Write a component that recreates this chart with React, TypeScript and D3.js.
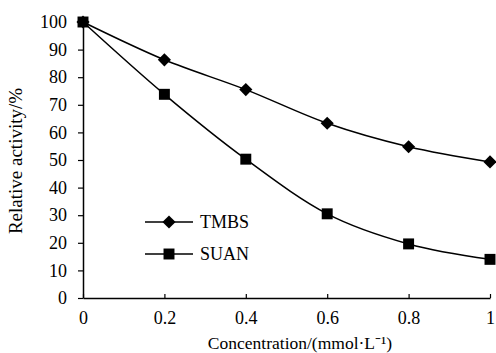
import { useEffect, useRef } from 'react';
import * as d3 from 'd3';

const concentrations = [0, 0.2, 0.4, 0.6, 0.8, 1];
const tmbsValues = [100, 86.3, 75.5, 63.3, 54.8, 49.3];
const suanValues = [100, 73.8, 50.3, 30.5, 19.6, 14];
const xTicks = [0, 0.2, 0.4, 0.6, 0.8, 1];
const yTicks = [0, 10, 20, 30, 40, 50, 60, 70, 80, 90, 100];
const seriesNames = ['TMBS', 'SUAN'];

const FONT = "'Liberation Serif', 'Times New Roman', Times, serif";

export default function App() {
  const svgRef = useRef<SVGSVGElement>(null);
  const width = 496;
  const height = 353;

  useEffect(() => {
    if (!svgRef.current) return;
    const svg = d3.select(svgRef.current);
    svg.selectAll('*').remove();

    const x = d3.scaleLinear().domain([0, 1]).range([83, 490]);
    const y = d3.scaleLinear().domain([0, 100]).range([298, 22]);

    // axes
    const yAxis = svg
      .append('g')
      .attr('transform', `translate(${x(0)},0)`)
      .call(d3.axisLeft(y).tickValues(yTicks).tickSize(5).tickSizeOuter(0).tickPadding(11));
    yAxis.attr('font-family', null).attr('font-size', null);
    yAxis.select('.domain').attr('stroke', '#000').attr('stroke-width', 1.5);
    yAxis.selectAll('.tick line').attr('stroke', '#000').attr('stroke-width', 1.2);
    yAxis.selectAll('.tick text').attr('fill', '#000');

    const xAxis = svg
      .append('g')
      .attr('transform', `translate(0,${y(0)})`)
      .call(
        d3
          .axisBottom(x)
          .tickValues(xTicks)
          .tickSize(-4)
          .tickSizeOuter(0)
          .tickPadding(13)
          .tickFormat((d) => d3.format('')(+d))
      );
    xAxis.attr('font-family', null).attr('font-size', null);
    xAxis.select('.domain').attr('stroke', '#000').attr('stroke-width', 1.5);
    xAxis.selectAll('.tick line').attr('stroke', '#000').attr('stroke-width', 1.2);
    xAxis.selectAll('.tick text').attr('fill', '#000');

    // lines
    const line = d3
      .line<number>()
      .x((_, i) => x(concentrations[i]))
      .y((d) => y(d))
      .curve(d3.curveCatmullRom.alpha(0));

    const diamond = d3.symbol().type(d3.symbolDiamond2).size(110);
    const square = d3.symbol().type(d3.symbolSquare).size(120);

    [tmbsValues, suanValues].forEach((vals, si) => {
      svg
        .append('path')
        .attr('d', line(vals))
        .attr('fill', 'none')
        .attr('stroke', '#000')
        .attr('stroke-width', 1.5);
      svg
        .selectAll(`.m${si}`)
        .data(vals)
        .enter()
        .append('path')
        .attr('transform', (d, i) => `translate(${x(concentrations[i])},${y(d)})`)
        .attr('d', si === 0 ? diamond() : square())
        .attr('fill', '#000');
    });

    // legend
    seriesNames.forEach((name, i) => {
      const ly = 222 + i * 32;
      svg.append('line').attr('x1', 145).attr('x2', 193).attr('y1', ly).attr('y2', ly).attr('stroke', '#000').attr('stroke-width', 1.5);
      svg
        .append('path')
        .attr('transform', `translate(169,${ly})`)
        .attr('d', i === 0 ? diamond() : square())
        .attr('fill', '#000');
      svg
        .append('text')
        .attr('x', 200)
        .attr('y', ly + 6)
        .text(name);
    });

    // axis titles
    svg
      .append('text')
      .attr('x', 300)
      .attr('y', 349)
      .attr('text-anchor', 'middle')
      .style('font-size', '17.5px')
      .text('Concentration/(mmol\u00b7L\u207b\u00b9)');

    svg
      .append('text')
      .attr('transform', 'rotate(-90)')
      .attr('x', -161)
      .attr('y', 22)
      .attr('text-anchor', 'middle')
      .style('font-size', '19px')
      .text('Relative activity/%');
  }, []);

  return (
    <svg
      ref={svgRef}
      width={width}
      height={height}
      style={{
        position: 'absolute',
        left: 0,
        top: 0,
        background: '#fff',
        fontFamily: FONT,
        fontSize: '18px',
      }}
    />
  );
}
